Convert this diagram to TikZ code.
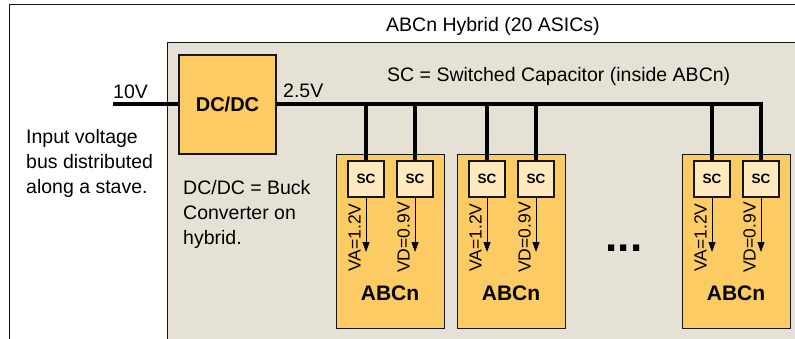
\documentclass[tikz,border=0pt]{standalone}
\usepackage{fontspec}
\setmainfont{Liberation Sans}
\usetikzlibrary{arrows.meta}
\definecolor{beige}{RGB}{229,226,213}
\definecolor{asic}{RGB}{253,203,99}
\definecolor{scfill}{RGB}{255,234,192}
\definecolor{edge}{RGB}{20,20,20}
\begin{document}
\begin{tikzpicture}[x=1pt,y=-1pt,
  frame/.style={draw=edge,line width=1.8pt},
  txt/.style={inner sep=0pt,font=\fontsize{19.5}{25}\selectfont},
  dcbox/.style={draw=edge,line width=1.3pt,fill=asic,minimum width=97pt,minimum height=99pt,inner sep=0pt,font=\bfseries\fontsize{20}{24}\selectfont},
  abcbox/.style={draw=edge,line width=1pt,fill=asic,minimum width=108pt,minimum height=174pt,inner sep=0pt},
  scbox/.style={draw=edge,line width=1.3pt,fill=scfill,minimum width=36pt,minimum height=36pt,inner sep=0pt,font=\bfseries\fontsize{13.5}{16}\selectfont},
  bus/.style={line width=4pt,draw=black,line join=miter},
  arr/.style={line width=1pt,-{Triangle[length=10pt,width=7pt]}},
  vlbl/.style={inner sep=0pt,rotate=90,font=\fontsize{17.5}{18}\selectfont},
  abclbl/.style={inner sep=0pt,font=\bfseries\fontsize{21}{24}\selectfont}]
\useasboundingbox (0,0) rectangle (795,339);
\clip (0,0) rectangle (795,339);
\fill[white] (0,0) rectangle (795,339);
\draw[frame] (9.5,4.5) rectangle (810,350);
\draw[frame,line width=1.5pt,fill=beige] (167.5,42.5) rectangle (810,350);

\node[txt,anchor=base west] (title) at (386,32) {ABCn Hybrid (20 ASICs)};
\node[txt,anchor=base west] (scnote) at (387,82) {SC = Switched Capacitor (inside ABCn)};

\node[dcbox] (dc) at (227.5,104.5) {DC/DC};
\coordinate (vin) at (113,104.5);
\node[txt,anchor=base west] (v10) at (113,99) {10V};
\node[txt,anchor=base west] (v25) at (283,98) {2.5V};

\node[txt,anchor=north west,align=left] (inlbl) at (26,128.7) {Input voltage\\bus distributed\\along a stave.};
\node[txt,anchor=north west,align=left] (dclbl) at (183,179.7) {DC/DC = Buck\\Converter on\\hybrid.};

\foreach \i/\x in {1/336,2/457,3/682}{
  \node[abcbox,anchor=north west] (abc\i) at (\x,154) {};
  \node[scbox] (sca\i) at (\x+30,179) {SC};
  \node[scbox] (scd\i) at (\x+79,179) {SC};
  \coordinate (ea\i) at (\x+30,252);
  \coordinate (ed\i) at (\x+79,252);
  \draw[arr] (sca\i.south) -- (ea\i);
  \draw[arr] (scd\i.south) -- (ed\i);
  \node[vlbl] (va\i) at (\x+18.5,237.5) {VA=1.2V};
  \node[vlbl] (vd\i) at (\x+67.5,237.5) {VD=0.9V};
  \node[abclbl] (an\i) at (\x+54,293) {ABCn};
}

\draw[bus] (vin) -- (dc.west);
\draw[bus] (dc.east) -- (scd3.north |- dc.east) -- (scd3.north);
\foreach \n in {sca1,scd1,sca2,scd2,sca3}{
  \draw[bus] (\n.north |- dc.east) -- (\n.north);
}

\node[inner sep=0pt,font=\bfseries\fontsize{44}{44}\selectfont] (dots) at (624,248.5) {...};
\end{tikzpicture}
\end{document}
